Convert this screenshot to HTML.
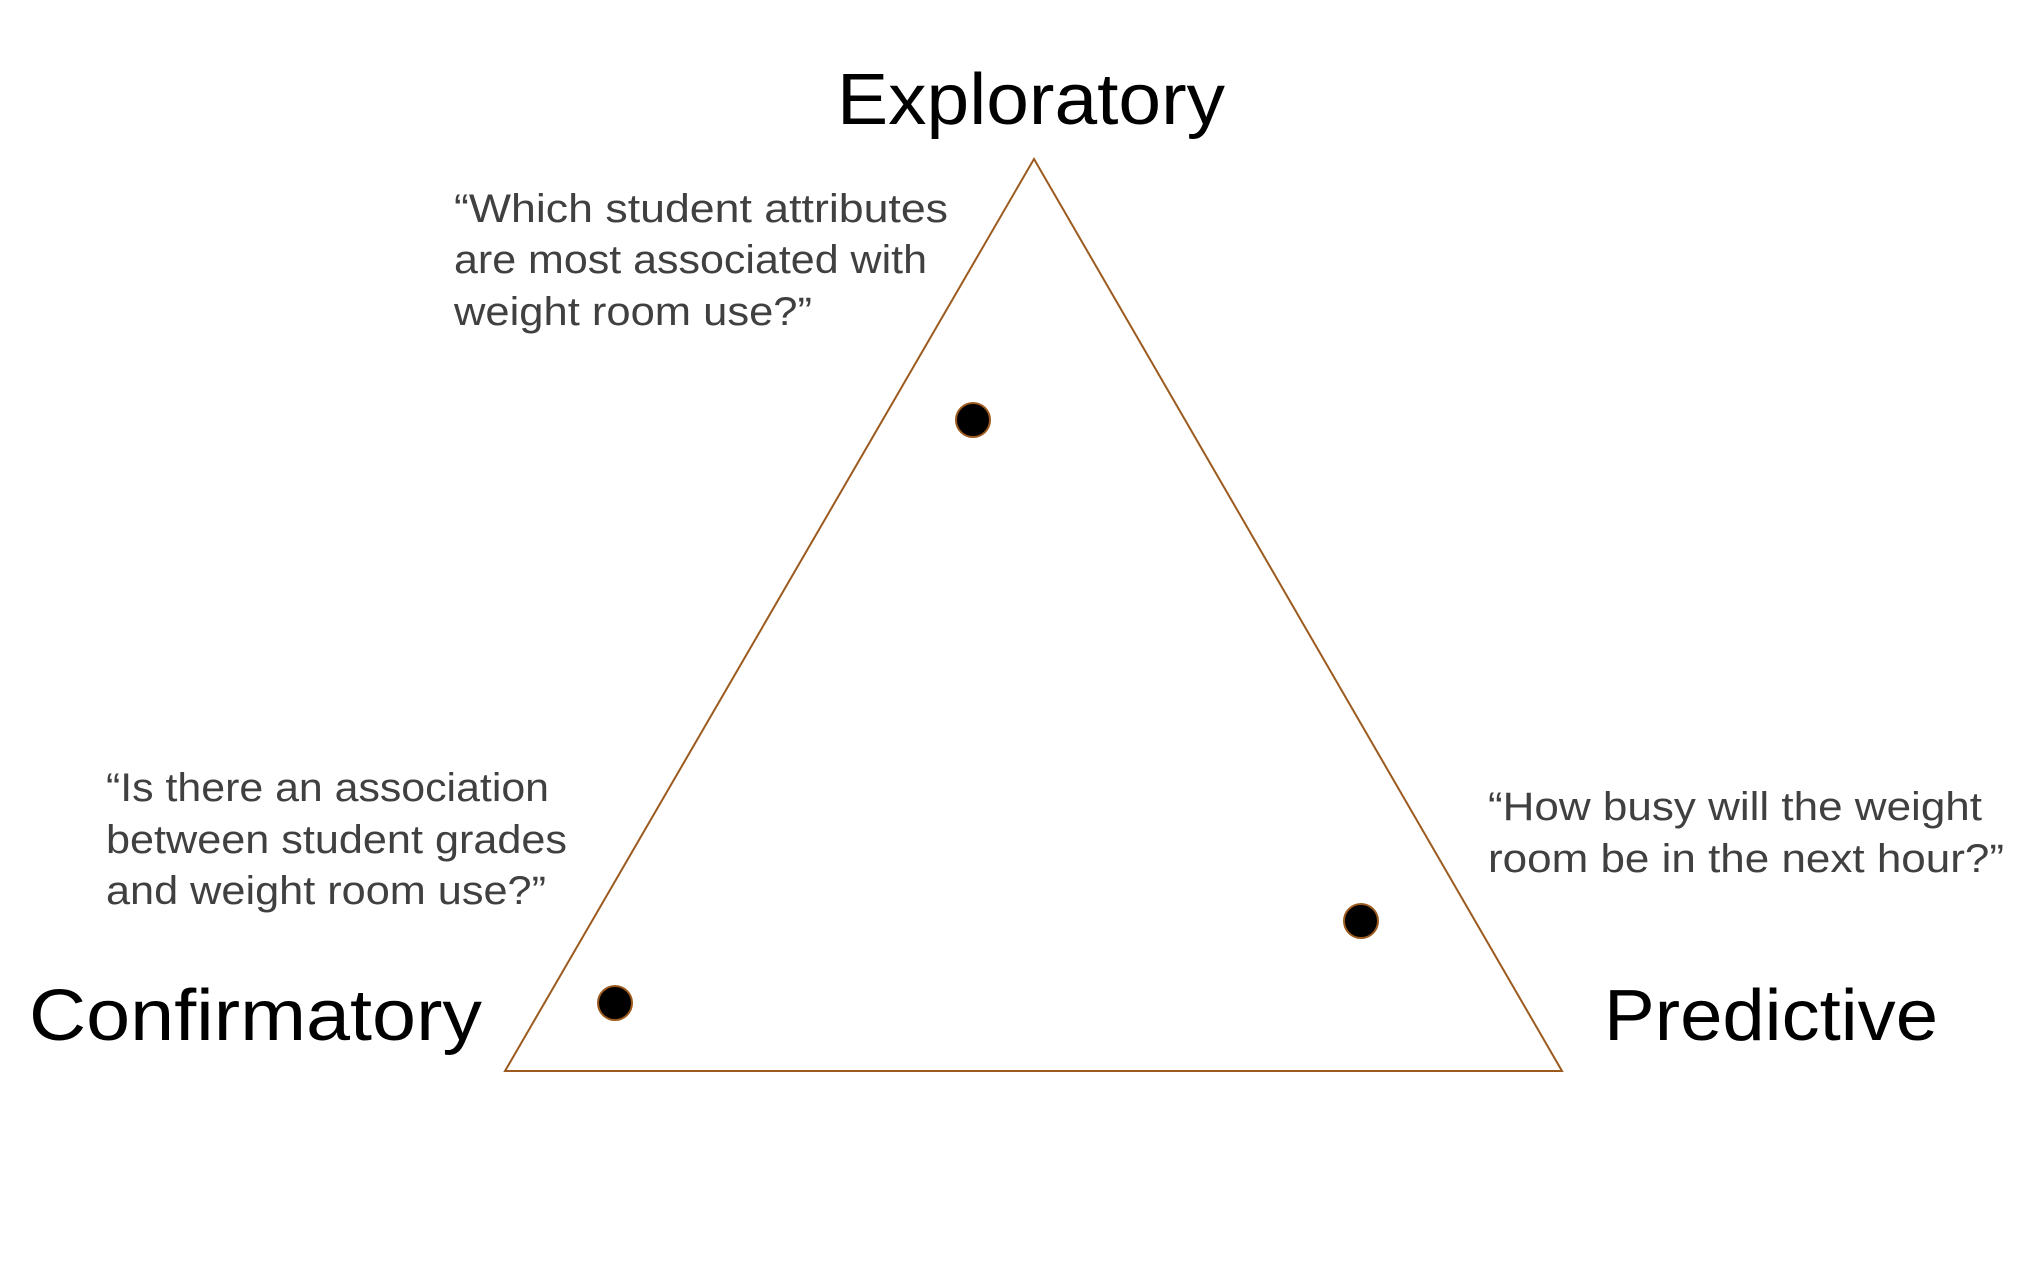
<!DOCTYPE html>
<html><head><meta charset="utf-8"><style>
html,body{margin:0;padding:0;background:#fff;}
svg{display:block;}
text{font-family:"Liberation Sans",sans-serif;}
</style></head><body>
<svg width="2034" height="1282" viewBox="0 0 2034 1282" xmlns="http://www.w3.org/2000/svg">
<polygon points="1034,159 505,1071 1562,1071" fill="none" stroke="#9c5a1e" stroke-width="2"/>
<circle cx="973" cy="420" r="17" fill="#000" stroke="#9c5a1e" stroke-width="2"/>
<circle cx="615" cy="1003" r="17" fill="#000" stroke="#9c5a1e" stroke-width="2"/>
<circle cx="1361" cy="921" r="17" fill="#000" stroke="#9c5a1e" stroke-width="2"/>
<g font-size="72" fill="#000">
<text x="837" y="124" textLength="388" lengthAdjust="spacingAndGlyphs">Exploratory</text>
<text x="29" y="1040" textLength="453" lengthAdjust="spacingAndGlyphs">Confirmatory</text>
<text x="1604" y="1040" textLength="334" lengthAdjust="spacingAndGlyphs">Predictive</text>
</g>
<g font-size="40" fill="#404040">
<text x="454" y="222" textLength="494" lengthAdjust="spacingAndGlyphs">“Which student attributes</text>
<text x="454" y="273" textLength="473" lengthAdjust="spacingAndGlyphs">are most associated with</text>
<text x="454" y="325" textLength="358" lengthAdjust="spacingAndGlyphs">weight room use?”</text>
<text x="106" y="801" textLength="443" lengthAdjust="spacingAndGlyphs">“Is there an association</text>
<text x="106" y="853" textLength="461" lengthAdjust="spacingAndGlyphs">between student grades</text>
<text x="106" y="904" textLength="440" lengthAdjust="spacingAndGlyphs">and weight room use?”</text>
<text x="1488" y="820" textLength="494" lengthAdjust="spacingAndGlyphs">“How busy will the weight</text>
<text x="1488" y="872" textLength="516" lengthAdjust="spacingAndGlyphs">room be in the next hour?”</text>
</g>
</svg>
</body></html>
